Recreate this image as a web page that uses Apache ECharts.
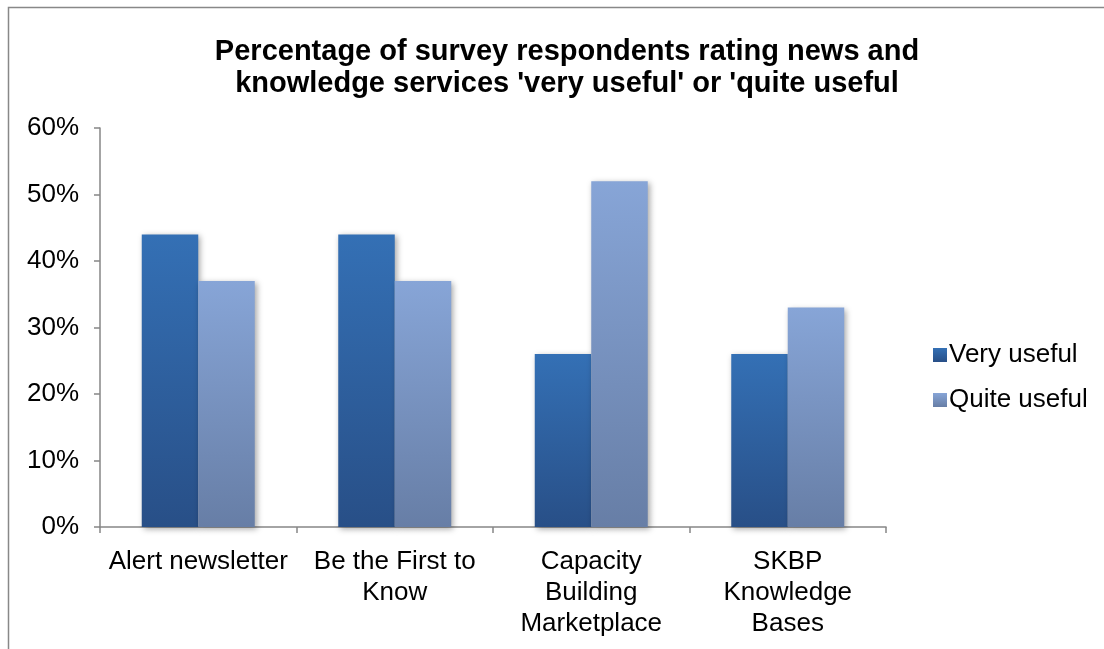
<!DOCTYPE html>
<html>
<head>
<meta charset="utf-8">
<style>
  html, body { margin: 0; padding: 0; background: #fff; }
  #chart { width: 1104px; height: 649px; }
</style>
<script src="https://cdn.jsdelivr.net/npm/echarts@6/dist/echarts.min.js"></script>
</head>
<body>
<div id="chart"></div>
<script>
// 数据
const categories = ['Alert newsletter', 'Be the First to\nKnow', 'Capacity\nBuilding\nMarketplace', 'SKBP\nKnowledge\nBases'];
const veryUseful = [0.44, 0.44, 0.26, 0.26];
const quiteUseful = [0.37, 0.37, 0.52, 0.33];
const yTicks = [0, 0.1, 0.2, 0.3, 0.4, 0.5, 0.6];

const chart = echarts.init(document.getElementById('chart'));

const grad = (top, bottom) => new echarts.graphic.LinearGradient(0, 0, 0, 1, [
    { offset: 0, color: top },
    { offset: 1, color: bottom }
]);

const font = 'Liberation Sans, Arial, sans-serif';
const shadow = { shadowColor: 'rgba(0,0,0,0.35)', shadowBlur: 6, shadowOffsetX: 2, shadowOffsetY: 2 };

const option = {
    backgroundColor: '#fff',
    animation: false,
    textStyle: { fontFamily: font },
    title: {
        text: "Percentage of survey respondents rating news and\nknowledge services 'very useful' or 'quite useful",
        left: 562,
        top: 31,
        textAlign: 'center',
        textStyle: { fontSize: 29, fontWeight: 'bold', color: '#000', lineHeight: 32, fontFamily: font }
    },
    legend: {
        orient: 'vertical',
        left: 928,
        top: 337,
        itemWidth: 14,
        itemHeight: 14,
        itemGap: 19,
        icon: 'rect',
        textStyle: { fontSize: 26, color: '#000', fontFamily: font, padding: [0, 0, 0, -3] },
        data: ['Very useful', 'Quite useful']
    },
    grid: { left: 100, top: 128, width: 786, height: 399, containLabel: false },
    xAxis: {
        type: 'category',
        data: categories,
        axisLine: { lineStyle: { color: '#868686', width: 1.5 } },
        axisTick: { show: true, length: 6, lineStyle: { color: '#868686', width: 1.5 } },
        axisLabel: { fontSize: 26, color: '#000', lineHeight: 31, margin: 19, interval: 0, fontFamily: font }
    },
    yAxis: {
        type: 'value',
        min: 0,
        max: 0.6,
        interval: 0.1,
        axisLine: { show: true, lineStyle: { color: '#868686', width: 1.5 } },
        axisTick: { show: true, length: 6, lineStyle: { color: '#868686', width: 1.5 } },
        splitLine: { show: false },
        axisLabel: {
            fontSize: 26, color: '#000', margin: 21, fontFamily: font,
            formatter: v => Math.round(v * 100) + '%'
        }
    },
    series: [
        {
            name: 'Very useful',
            type: 'bar',
            data: veryUseful,
            barGap: '0%',
            barCategoryGap: '42.5%',
            itemStyle: Object.assign({ color: grad('#3470b5', '#284f87') }, shadow)
        },
        {
            name: 'Quite useful',
            type: 'bar',
            data: quiteUseful,
            itemStyle: Object.assign({ color: grad('#87a5d7', '#677ea6') }, shadow)
        }
    ],
    graphic: [
        {
            type: 'rect',
            shape: { x: 8.5, y: 7.5, width: 1200, height: 800 },
            style: { fill: 'none', stroke: '#888', lineWidth: 1.5 },
            silent: true
        }
    ]
};

chart.setOption(option);
window.addEventListener('resize', () => chart.resize());
</script>
</body>
</html>
